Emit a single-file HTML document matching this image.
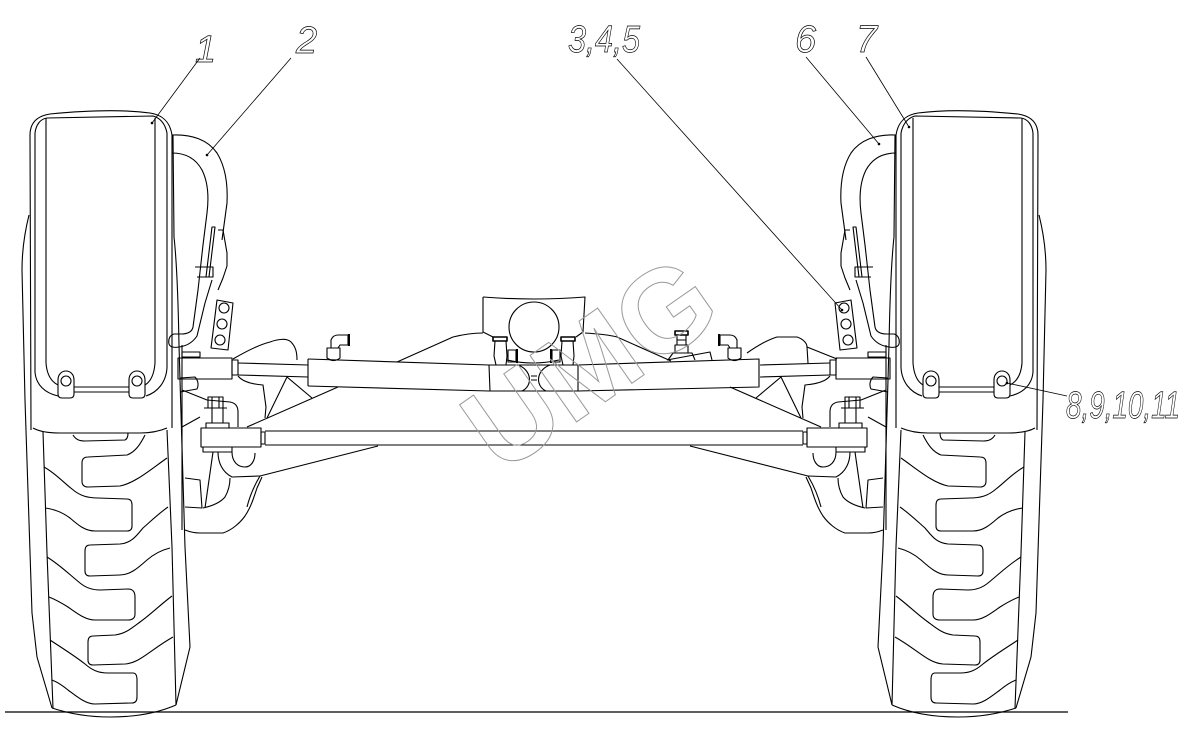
<!DOCTYPE html>
<html>
<head>
<meta charset="utf-8">
<style>
  html, body { margin: 0; padding: 0; background: #fff; }
  svg { display: block; }
  .lbl { font-family: "Liberation Sans", sans-serif; font-style: italic; font-size: 38px; fill: none; stroke: #000; stroke-width: 0.7; }
</style>
</head>
<body>
<svg width="1194" height="736" viewBox="0 0 1194 736" xmlns="http://www.w3.org/2000/svg">
<rect width="1194" height="736" fill="#fff"/>

<defs>
<g id="half">
  <!-- tire outline -->
  <path d="M29,215 C24,235 22,252 22,270 L25,400 L32,613 L37,657 L52,708"/>
  <path d="M173,135 L174,237 C176,255 178,290 179,345 L180,380 L185,547 L190,647 L176,705"/>
  <path d="M52,708 C70,714 90,717 110,717 C140,717 160,712 176,705"/>
  <path d="M43,432 L47,553 L53,708"/>
  <path d="M167,430 L172,547 L176,705"/>
  <!-- tread lugs -->
  <path d="M73,435 C76,440 80,441 85,441 L125,440 C127,439 128,436 128,433"/>
  <path d="M145,435 C140,445 135,452 127,455 L88,457 Q82,457 82,463 L82,481 Q82,487 88,487 L120,486 C135,483 150,470 167,458"/>
  <path d="M44,467 C55,473 63,482 72,489 C80,496 88,498 98,498 L127,499 Q132,499 132,505 L132,526 Q132,531 127,531 L95,531 C85,531 78,525 70,518 C62,512 53,509 45,508"/>
  <path d="M168,507 C158,514 150,522 143,528 C137,535 132,543 120,544 L90,545 Q85,545 85,551 L85,571 Q85,576 90,576 L120,575 C130,575 138,568 147,560 C155,553 162,550 170,548"/>
  <path d="M47,557 C60,565 70,575 80,583 C86,588 92,590 100,590 L128,589 Q135,589 135,597 L135,614 Q135,620 128,620 L95,620 C85,620 75,612 68,607 C60,602 54,599 49,597"/>
  <path d="M172,596 C160,605 150,615 140,622 C132,628 125,634 115,635 L93,636 Q88,636 88,642 L88,660 Q88,665 93,665 L125,664 C140,663 150,650 173,637"/>
  <path d="M50,640 C62,648 75,656 85,664 C92,670 98,673 108,673 L133,673 Q137,673 137,680 L137,697 Q137,703 132,703 L95,704 C85,704 75,695 68,690 C62,685 57,682 52,680"/>

  <!-- fender -->
  <path d="M31,430 L30,135 C30,123 37,116 50,114 C80,111 120,109 150,113 C163,115 170,122 172,135 L172,428"/>
  <path d="M35,133 C36,125 40,119 47,118 L153,116 C160,118 165,123 167,133"/>
  <path d="M35,133 L35,372 C36,385 45,393 58,396"/>
  <path d="M167,133 L167,368 C166,382 158,392 146,396"/>
  <path d="M46,118 L46,363 C47,376 52,382 58,385"/>
  <path d="M155,118 L155,363 C154,376 150,382 145,385"/>
  <path d="M33,428 C40,432 50,433 60,433 L140,433 C152,433 160,431 167,428"/>
  <path d="M58,394 L58,380 C58,374 62,371 66,371 C70,371 74,374 74,380 L74,394 C74,397 72,398 70,398 L62,398 C59,398 58,396 58,394 Z"/>
  <circle cx="66" cy="381" r="5"/>
  <path d="M129,394 L129,380 C129,374 133,371 137,371 C141,371 145,374 145,380 L145,394 C145,397 143,398 141,398 L133,398 C130,398 129,396 129,394 Z"/>
  <circle cx="137" cy="381" r="5"/>
  <path d="M74,387 L129,387 M74,392 L129,392"/>

  <!-- pipe -->
  <path d="M172,135 C192,134 208,140 217,153 C225,166 228,183 227,203 L222,240"/>
  <path d="M172,153 C186,153 196,159 202,170 C208,182 209,197 207,213 L203,245 L198,290 L193,327 C192,332 187,334 181,334 L174,334 C170,335 168,339 169,344 C170,347 174,348 179,347 C187,346 193,342 197,336 L205,303 L212,280"/>
  <path d="M212,227 L215,227 L209,277 L206,277 Z"/>
  <path d="M218,230 L223,230 L227,253 L227,266 L223,278 L218,290"/>
  <path d="M195,267 L213,267 L213,277 L197,277"/>
  <!-- plate with holes -->
  <path d="M217,300 L233,303 L228,350 L211,348 Z"/>
  <circle cx="224" cy="308" r="5"/>
  <circle cx="222" cy="324" r="5"/>
  <circle cx="220" cy="340" r="5"/>

  <!-- rod end -->
  <rect x="182" y="352" width="18" height="5"/>
  <rect x="178" y="358" width="54" height="21"/>
  <rect x="232" y="360" width="6" height="15"/>
  <path d="M238,363 L308,365 M238,375 L308,377"/>

  <!-- knuckle upper -->
  <path d="M180,378 L195,377 C198,380 199,385 197,389 L180,392"/>
  <path d="M182,390 L207,400 L230,402 C236,403 238,407 238,412 L238,427"/>
  <path d="M182,427 L200,417"/>
  <rect x="208" y="397" width="15" height="11"/>
  <path d="M212,397 L212,408 M219,397 L219,408 M204,408 L227,408"/>
  <path d="M212,408 L212,423 M223,408 L223,423"/>
  <rect x="206" y="423" width="23" height="5"/>

  <!-- tie rod end -->
  <rect x="201" y="428" width="60" height="19"/>
  <rect x="261" y="432" width="4" height="12"/>
  <rect x="203" y="447" width="29" height="5"/>

  <!-- arms -->
  <path d="M247,427 L338,387"/>
  <path d="M287,377 L267,418 M287,377 L312,398"/>
  <path d="M238,376 C242,381 250,384 263,385 L266,407 L265,418"/>
  <path d="M260,476 L378,446"/>
  <path d="M218,452 C218,462 222,472 232,477 L260,476"/>
  <path d="M232,452 C232,462 238,467 245,467 C251,467 255,461 255,453"/>
  <path d="M260,476 C254,486 250,495 247,507"/>
  <path d="M213,452 L205,508"/>
  <path d="M185,530 C190,532 195,533 200,533 L223,533 C232,530 240,523 245,516 C251,507 254,497 257,488 L262,477"/>
  <path d="M185,478 L200,480 L202,508 L185,507"/>
  <path d="M203,508 C212,506 220,503 225,497 C229,490 230,484 230,478"/>
  <path d="M182,530 L182,345"/>

  <!-- elbow fitting -->
  <path d="M327,348 L340,348 L340,358 Q334,363 327,358 Z"/>
  <path d="M331,348 L331,340 Q333,335 338,335 L348,335 L348,345 L340,345 L338,348"/>
  <path d="M349,334 L349,346" stroke-width="2"/>
</g>
</defs>

<g fill="none" stroke="#000" stroke-width="1.1" stroke-linejoin="round">
  <use href="#half"/>
  <g transform="translate(1068,0) scale(-1,1)"><use href="#half"/></g>

  <!-- left-only bump -->
  <path d="M233,359 C245,352 258,345 270,342 C278,339 287,338 291,342 C296,347 297,353 297,360"/>
  <!-- right-only bump -->
  <path d="M747,353 C757,346 767,340 777,337 L797,337 C803,339 807,343 807,347 L808,363"/>
  <path d="M807,347 L837,359"/>

  <!-- axle housing -->
  <path d="M397,362 L453,337 C465,334 475,333 483,333"/>
  <path d="M585,333 C600,334 610,335 617,337 L671,361"/>

  <!-- differential box -->
  <path d="M483,297 Q534,301 585,297 L583,332 L576,337"/>
  <path d="M483,297 L483,332 L493,337"/>
  <circle cx="534" cy="327" r="25"/>
  <path d="M507,360 Q533,366 559,360"/>

  <!-- cylinder -->
  <path d="M308,359 L308,386"/>
  <path d="M308,359 L489,365 L578,365 L759,359 L759,387 L578,391 L489,391 L308,386"/>
  <path d="M489,365 L490,391 M578,365 L578,391"/>
  <path d="M518,365 C532,370 533,386 522,391"/>
  <path d="M550,365 C536,370 535,386 546,391"/>
  <path d="M531,376 L537,376 M531,380 L537,380"/>

  <!-- center fittings -->
  <rect x="493" y="337" width="14" height="4" stroke-width="1.6"/>
  <path d="M495,341 L494,356 L496,365 L506,365 L507,356 L506,341"/>
  <rect x="508" y="350" width="8" height="12"/>
  <path d="M517,349 L517,363" stroke-width="2"/>
  <rect x="561" y="337" width="14" height="4" stroke-width="1.6"/>
  <path d="M562,341 L561,356 L563,365 L573,365 L574,356 L573,341"/>
  <rect x="552" y="350" width="8" height="12"/>
  <path d="M551,349 L551,363" stroke-width="2"/>

  <!-- threaded fitting right -->
  <rect x="675" y="331" width="13" height="4" stroke-width="1.6"/>
  <rect x="677" y="335" width="9" height="5"/>
  <rect x="677" y="340" width="9" height="5"/>
  <rect x="675" y="345" width="13" height="8"/>
  <path d="M668,360 L673,353 L692,353 L695,360"/>
  <path d="M667,360 L710,352 L712,360"/>

  <!-- tie rod -->
  <path d="M265,431 L803,431 M265,445 L803,445"/>

  <!-- ground -->
  <path d="M5,712 L1068,712" stroke-width="1.2"/>
</g>

<!-- leaders -->
<g fill="none" stroke="#000" stroke-width="0.8">
  <path d="M200,58 L152,123"/>
  <path d="M291,58 L207,155"/>
  <path d="M617,59 L842,310"/>
  <path d="M806,57 L879,144"/>
  <path d="M866,57 L909,127"/>
  <path d="M1067,396 L1007,383"/>
</g>
<g fill="#000">
  <circle cx="152" cy="123" r="1.3"/>
  <circle cx="207" cy="155" r="1.3"/>
  <circle cx="842" cy="310" r="1.3"/>
  <circle cx="879" cy="144" r="1.3"/>
  <circle cx="909" cy="127" r="1.3"/>
  <circle cx="1007" cy="383" r="1.3"/>
</g>

<!-- labels -->
<text class="lbl" x="195" y="62">1</text>
<text class="lbl" x="296" y="53">2</text>
<text class="lbl" x="568" y="52" textLength="72" lengthAdjust="spacingAndGlyphs">3,4,5</text>
<text class="lbl" x="795" y="52">6</text>
<text class="lbl" x="856" y="52">7</text>
<text class="lbl" x="1066" y="418" textLength="114" lengthAdjust="spacingAndGlyphs">8,9,10,11</text>

<!-- watermark -->
<text x="0" y="42" text-anchor="middle" transform="translate(589,362) rotate(-35)" font-family="Liberation Sans, sans-serif" font-weight="bold" font-size="118" fill="none" stroke="#9a9a9a" stroke-width="1">UMG</text>
</svg>
</body>
</html>
